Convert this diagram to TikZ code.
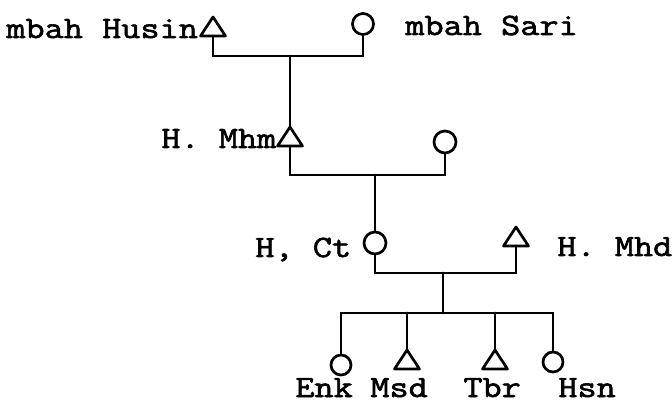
\documentclass[tikz,border=0pt]{standalone}
\usepackage{fontspec}
\setmonofont{Latin Modern Mono}[FakeStretch=1.2, FakeBold=2]
\usetikzlibrary{shapes.geometric}
\begin{document}
\begin{tikzpicture}[x=1pt,y=1pt,
  line width=2.7pt,
  male/.style={minimum width=25pt, minimum height=19pt, inner sep=0pt, outer sep=0pt},
  female/.style={draw, circle, minimum size=20pt, inner sep=0pt},
  lbl/.style={font=\fontsize{31}{31}\selectfont\ttfamily, inner sep=0pt, anchor=base west},
  tie/.style={line cap=round}
]
\useasboundingbox (0,0) rectangle (672,-403);
% symbols
\node[male, anchor=south] (husin) at (213,-36) {};
\node[female, minimum size=21pt] (sari) at (363,-24) {};
\node[male, anchor=south] (mhm) at (290,-146) {};
\node[female, minimum size=22pt] (w2) at (445,-142) {};
\node[female, minimum size=22pt] (ct) at (375,-243) {};
\node[male, anchor=south] (mhd) at (516,-246) {};
\node[female] (enk) at (341,-365) {};
\node[male, anchor=south] (msd) at (407,-369) {};
\node[male, anchor=south] (tbr) at (495,-369) {};
\node[female] (hsn) at (553,-362) {};
\foreach \n in {husin,mhm,mhd,msd,tbr}
  \draw[line join=round] (\n.north) -- (\n.south east) -- (\n.south west) -- cycle;
% junctions
\coordinate (j1) at (290,-56);
\coordinate (j2) at (375,-175);
\coordinate (j3) at (443,-273);
\coordinate (j4) at (443,-313);
% connectors
\draw[tie] (husin.south) |- (j1) -| (sari.south);
\draw[tie] (j1) -- (mhm.north);
\draw[tie] (mhm.south) |- (j2) -| (w2.south);
\draw[tie] (j2) -- (ct.north);
\draw[tie] (ct.south) |- (j3) -| (mhd.south);
\draw[tie] (j3) -- (j4);
\draw[tie] (enk.north) |- (j4) -| (hsn.north);
\draw[tie] (msd.north) -- (msd.north |- j4);
\draw[tie] (tbr.north) -- (tbr.north |- j4);
% labels
\node[lbl] (lhusin) at (5,-38) {mbah Husin};
\node[lbl] (lsari) at (404,-35) {mbah Sari};
\node[lbl] (lmhm) at (160,-148) {H. Mhm};
\node[lbl] (lct) at (254,-257) {H, Ct};
\node[lbl] (lmhd) at (556,-256) {H. Mhd};
\node[lbl] (lenk) at (294,-397) {Enk};
\node[lbl] (lmsd) at (369,-397) {Msd};
\node[lbl] (ltbr) at (462,-397) {Tbr};
\node[lbl] (lhsn) at (557,-397) {Hsn};
\end{tikzpicture}
\end{document}
